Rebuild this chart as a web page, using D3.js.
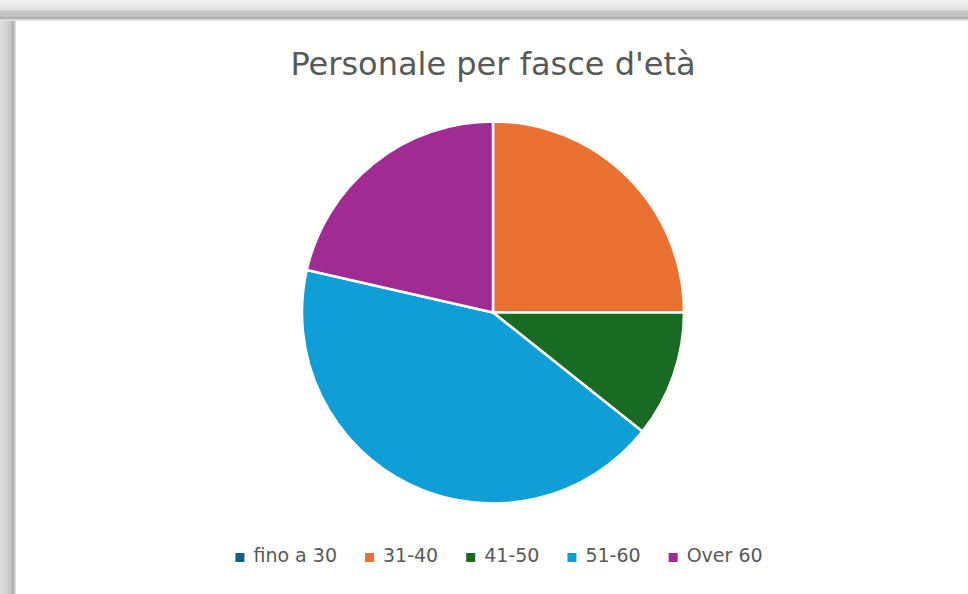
<!DOCTYPE html>
<html><head><meta charset="utf-8">
<script src="https://cdn.jsdelivr.net/npm/d3@7"></script>
<style>html,body{margin:0;padding:0;background:#fff;}svg{display:block;}</style>
</head><body>
<svg id="c" width="968" height="594"></svg>
<script>
const categories = ["fino a 30", "31-40", "41-50", "51-60", "Over 60"];
const values = [0, 7, 3, 12, 6];
const colors = ["#156082", "#E97132", "#196B24", "#0F9ED5", "#A02B93"];
const title = "Personale per fasce d'età";

const svg = d3.select("#c");
const W = 968, H = 594;

// frame
const defs = svg.append("defs");
const gTop = defs.append("linearGradient").attr("id","gt").attr("x1",0).attr("y1",0).attr("x2",0).attr("y2",1);
[[0,"#f2f2f2"],[0.45,"#e2e2e2"],[0.55,"#c6c6c6"],[0.82,"#bdbdbd"],[0.86,"#9e9e9e"],[0.92,"#d6d6d6"],[1,"#e4e4e4"]]
  .forEach(s=>gTop.append("stop").attr("offset",s[0]).attr("stop-color",s[1]));
const gLeft = defs.append("linearGradient").attr("id","gl").attr("x1",0).attr("y1",0).attr("x2",1).attr("y2",0);
[[0,"#e0e0e0"],[0.4,"#d2d2d2"],[0.7,"#c4c4c4"],[0.8,"#a8a8a8"],[0.9,"#c8c8c8"],[1,"#e2e2e2"]]
  .forEach(s=>gLeft.append("stop").attr("offset",s[0]).attr("stop-color",s[1]));
svg.append("rect").attr("x",0).attr("y",0).attr("width",W).attr("height",H).attr("fill","#ffffff");
svg.append("rect").attr("x",0).attr("y",0).attr("width",16).attr("height",H).attr("fill","url(#gl)");
svg.append("rect").attr("x",0).attr("y",0).attr("width",W).attr("height",21).attr("fill","url(#gt)");

// title
svg.append("text").attr("x",493).attr("y",75).attr("text-anchor","middle")
  .attr("font-family","'DejaVu Sans', sans-serif").attr("font-size",32).attr("fill","#595959")
  .text(title);

// pie
const cx = 493, cy = 312.5, R = 191;
const pie = d3.pie().sort(null).value(d=>d.v);
const arc = d3.arc().innerRadius(0).outerRadius(R);
const data = categories.map((c,i)=>({c, v: values[i], col: colors[i]}));
svg.append("g").attr("transform",`translate(${cx},${cy})`)
  .selectAll("path").data(pie(data)).join("path")
  .attr("d",arc).attr("fill",d=>d.data.col)
  .attr("stroke","#ffffff").attr("stroke-width",d=>d.data.v>0?2.5:0).attr("stroke-linejoin","round");

// legend
const legend = svg.append("g").attr("font-family","'DejaVu Sans', sans-serif").attr("font-size",19).attr("fill","#595959");
const items = legend.selectAll("g").data(data).join("g");
items.append("rect").attr("width",9).attr("height",9).attr("y",-9).attr("fill",d=>d.col);
items.append("text").attr("x",18).attr("y",0).text(d=>d.c);
let widths = [];
items.each(function(){ widths.push(this.getBBox().width); });
const gap = 28;
const total = d3.sum(widths) + gap*(widths.length-1);
let x = 499 - total/2;
items.attr("transform",(d,i)=>{ const t=`translate(${x},562)`; x += widths[i]+gap; return t; });
</script>
</body></html>
